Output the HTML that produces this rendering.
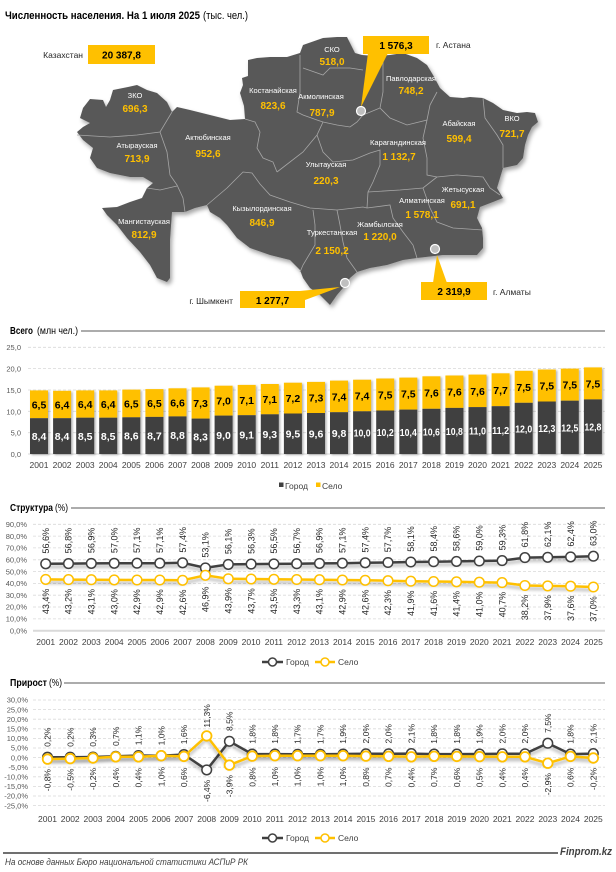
<!DOCTYPE html>
<html><head><meta charset="utf-8"><style>
html,body{margin:0;padding:0;background:#fff;}
svg{display:block;font-family:"Liberation Sans","DejaVu Sans",sans-serif;}
.ax{font-size:7.5px;fill:#595959;text-anchor:end;}
.yr{font-size:8.5px;fill:#404040;text-anchor:middle;}
.gl{stroke:#d9d9d9;stroke-width:0.8;stroke-dasharray:3 2;}
.bl{font-size:10.5px;font-weight:bold;text-anchor:middle;}
.rn{font-size:7.5px;fill:#fff;text-anchor:middle;}
.rv{font-size:10px;font-weight:bold;fill:#FFC000;text-anchor:middle;}
.sl{font-size:9px;fill:#262626;text-anchor:middle;}
.gv{font-size:8.5px;fill:#262626;text-anchor:middle;}
.lg{font-size:8.5px;fill:#404040;}
.bd{fill:none;stroke:#a6a6a6;stroke-width:0.8;}
</style></head><body>
<svg width="616" height="872" viewBox="0 0 616 872" xmlns="http://www.w3.org/2000/svg">
<defs>
<filter id="sh" x="-10%" y="-10%" width="120%" height="130%"><feDropShadow dx="2" dy="3" stdDeviation="2" flood-color="#000" flood-opacity="0.35"/></filter>
<filter id="ls" x="-5%" y="-50%" width="110%" height="200%"><feDropShadow dx="0" dy="3" stdDeviation="1.5" flood-color="#000" flood-opacity="0.3"/></filter>
<filter id="bs" x="-20%" y="-5%" width="140%" height="110%"><feDropShadow dx="1.5" dy="1" stdDeviation="1" flood-color="#000" flood-opacity="0.3"/></filter>
</defs>
<rect width="616" height="872" fill="#fff"/>

<!-- Title -->
<text x="5" y="19" font-size="11" font-weight="bold" fill="#000" textLength="195" lengthAdjust="spacingAndGlyphs">Численность населения. На 1 июля 2025</text>
<text x="203" y="19" font-size="11" fill="#000" textLength="45" lengthAdjust="spacingAndGlyphs">(тыс. чел.)</text>

<!-- Map -->
<path filter="url(#sh)" fill="#595959" d="M83,108 L90,99 L103,100 L106,107 L110,100 L113,90 L128,87 L137,85 L147,90 L157,93 L167,102 L172,112 L177,107 L190,110 L210,115 L230,120 L245,119 L244,106 L240,93 L243,85 L242,78 L248,76 L248,60 L257,58 L270,57 L287,57 L300,53 L303,45 L323,38 L337,37 L347,37 L350,43 L355,53 L362,55 L375,56 L390,55 L403,53 L417,58 L427,65 L433,75 L440,88 L450,97 L463,98 L470,97 L483,98 L493,103 L503,110 L517,113 L527,112 L535,113 L538,122 L532,127 L528,135 L525,145 L523,158 L517,165 L503,168 L500,178 L497,188 L503,198 L493,202 L480,207 L477,218 L482,228 L483,238 L483,248 L477,255 L463,255 L443,255 L417,258 L403,260 L387,265 L370,268 L357,272 L350,278 L343,288 L337,295 L330,305 L320,295 L310,288 L303,278 L300,270 L290,260 L270,255 L250,248 L237,238 L227,225 L220,218 L210,212 L207,205 L195,208 L185,212 L172,212 L170,240 L170,278 L167,282 L157,278 L150,265 L140,252 L127,238 L117,225 L107,215 L102,208 L117,207 L130,202 L142,198 L147,188 L153,183 L143,177 L130,177 L110,173 L97,168 L90,158 L93,148 L83,140 L77,132 L83,127 L90,123 L80,118 Z"/>
<g class="bd">
<path d="M77,135 L110,137 L137,135 L160,132 L172,112"/>
<path d="M160,132 L167,152 L170,175 L177,185 L183,198 L185,212"/>
<path d="M147,188 L160,190 L177,186"/>
<path d="M245,119 L255,122 L260,132 L257,148 L263,158 L273,162 L277,172"/>
<path d="M207,205 L227,188 L243,172 L252,173 L260,184 L270,195 L290,202 L310,208 L337,210 L363,207 L367,208"/>
<path d="M277,172 L303,152 L317,135 L323,122"/>
<path d="M300,55 L300,92 L297,112 L303,115 L317,120 L323,122"/>
<path d="M303,68 L323,75 L330,68 L350,68 L363,70"/>
<path d="M323,122 L337,125 L350,127 L357,122 L363,115 L380,108 L383,92 L383,75 L383,58"/>
<path d="M380,108 L390,118 L407,125 L427,120 L430,105 L437,92"/>
<path d="M317,135 L323,152 L333,162 L353,160 L370,153 L380,150 L380,165 L373,182 L368,192 L367,208"/>
<path d="M427,120 L423,138 L427,158 L427,175 L437,177"/>
<path d="M483,98 L485,118 L497,135 L503,145 L503,168"/>
<path d="M437,177 L457,175 L483,177 L490,188 L500,195"/>
<path d="M368,192 L400,190 L423,188 L437,177"/>
<path d="M423,188 L430,208 L437,222 L453,228 L483,230"/>
<path d="M367,208 L390,205 L393,218 L403,232 L413,245 L417,258"/>
<path d="M313,210 L315,225 L315,245 L303,265 L300,272"/>
<path d="M337,210 L340,225 L343,242 L347,258 L357,272"/>
</g>
<text class="rn" x="332" y="52">СКО</text><text class="rv" x="332" y="65">518,0</text>
<text class="rn" x="273" y="93">Костанайская</text><text class="rv" x="273" y="109">823,6</text>
<text class="rn" x="321" y="99">Акмолинская</text><text class="rv" x="322" y="116">787,9</text>
<text class="rn" x="411" y="81">Павлодарская</text><text class="rv" x="411" y="94">748,2</text>
<text class="rn" x="135" y="98">ЗКО</text><text class="rv" x="135" y="112">696,3</text>
<text class="rn" x="137" y="148">Атырауская</text><text class="rv" x="137" y="162">713,9</text>
<text class="rn" x="208" y="140">Актюбинская</text><text class="rv" x="208" y="157">952,6</text>
<text class="rn" x="262" y="211">Кызылординская</text><text class="rv" x="262" y="226">846,9</text>
<text class="rn" x="144" y="224">Мангистауская</text><text class="rv" x="144" y="238">812,9</text>
<text class="rn" x="459" y="126">Абайская</text><text class="rv" x="459" y="142">599,4</text>
<text class="rn" x="512" y="121">ВКО</text><text class="rv" x="512" y="137">721,7</text>
<text class="rn" x="398" y="145">Карагандинская</text><text class="rv" x="399" y="160">1 132,7</text>
<text class="rn" x="326" y="167">Улытауская</text><text class="rv" x="326" y="184">220,3</text>
<text class="rn" x="463" y="192">Жетысуская</text><text class="rv" x="463" y="208">691,1</text>
<text class="rn" x="422" y="203">Алматинская</text><text class="rv" x="422" y="218">1 578,1</text>
<text class="rn" x="380" y="227">Жамбылская</text><text class="rv" x="380" y="240">1 220,0</text>
<text class="rn" x="332" y="235">Туркестанская</text><text class="rv" x="332" y="254">2 150,2</text>

<!-- callouts -->
<text x="83" y="58" font-size="8.5" fill="#262626" text-anchor="end">Казахстан</text>
<rect x="88" y="45" width="67" height="19" fill="#FFC000"/>
<text x="121.5" y="58.5" font-size="10" font-weight="bold" fill="#000" text-anchor="middle">20 387,8</text>

<polygon points="368,53 388,53 361,107" fill="#FFC000"/>
<rect x="363" y="36" width="66" height="18" fill="#FFC000"/>
<text x="396" y="49" font-size="10" font-weight="bold" fill="#000" text-anchor="middle">1 576,3</text>
<text x="436" y="48" font-size="8.5" fill="#262626">г. Астана</text>
<circle cx="361" cy="111" r="4.5" fill="#bfbfbf" stroke="#fff" stroke-width="1.2"/>

<polygon points="433,283 447,283 437,255" fill="#FFC000"/>
<rect x="421" y="282" width="66" height="18" fill="#FFC000"/>
<text x="454" y="295" font-size="10" font-weight="bold" fill="#000" text-anchor="middle">2 319,9</text>
<text x="493" y="295" font-size="8.5" fill="#262626">г. Алматы</text>
<circle cx="435" cy="249" r="4.5" fill="#bfbfbf" stroke="#fff" stroke-width="1.2"/>

<polygon points="290,292 305,300 340,287" fill="#FFC000"/>
<rect x="240" y="291" width="65" height="17" fill="#FFC000"/>
<text x="272.5" y="304" font-size="10" font-weight="bold" fill="#000" text-anchor="middle">1 277,7</text>
<text x="233" y="304" font-size="8.5" fill="#262626" text-anchor="end">г. Шымкент</text>
<circle cx="345" cy="283" r="4.5" fill="#bfbfbf" stroke="#fff" stroke-width="1.2"/>

<!-- ============ Bar chart ============ -->
<text x="10" y="334" font-size="10" font-weight="bold" fill="#000" textLength="23" lengthAdjust="spacingAndGlyphs">Всего</text>
<text x="37" y="334" font-size="10" fill="#000" textLength="41" lengthAdjust="spacingAndGlyphs">(млн чел.)</text>
<line x1="81" y1="331" x2="605" y2="331" stroke="#595959" stroke-width="1"/>
<g>
<line class="gl" x1="28" y1="347.3" x2="605" y2="347.3"/>
<line class="gl" x1="28" y1="368.6" x2="605" y2="368.6"/>
<line class="gl" x1="28" y1="390" x2="605" y2="390"/>
<line class="gl" x1="28" y1="411.3" x2="605" y2="411.3"/>
<line class="gl" x1="28" y1="432.7" x2="605" y2="432.7"/>
<line x1="28" y1="454" x2="605" y2="454" stroke="#d9d9d9" stroke-width="1"/>
</g>
<g class="ax">
<text x="21" y="350">25,0</text><text x="21" y="371.5">20,0</text><text x="21" y="393">15,0</text>
<text x="21" y="414.3">10,0</text><text x="21" y="435.7">5,0</text><text x="21" y="457">0,0</text>
</g>
<g filter="url(#bs)">
<g fill="#FFC000">
<rect x="30" y="390.4" width="18" height="27.8"/><rect x="53.1" y="390.8" width="18" height="27.4"/>
<rect x="76.2" y="390.4" width="18" height="27.3"/><rect x="99.2" y="390.4" width="18" height="27.3"/>
<rect x="122.3" y="389.6" width="18" height="27.7"/><rect x="145.4" y="389.1" width="18" height="27.8"/>
<rect x="168.5" y="388.3" width="18" height="28.1"/><rect x="191.6" y="387.4" width="18" height="31.2"/>
<rect x="214.6" y="385.7" width="18" height="29.9"/><rect x="237.7" y="384.9" width="18" height="30.3"/>
<rect x="260.8" y="384" width="18" height="30.3"/><rect x="283.9" y="382.7" width="18" height="30.8"/>
<rect x="307" y="381.9" width="18" height="31.1"/><rect x="330" y="380.6" width="18" height="31.6"/>
<rect x="353.1" y="379.7" width="18" height="31.6"/><rect x="376.2" y="378.5" width="18" height="32"/>
<rect x="399.3" y="377.6" width="18" height="32"/><rect x="422.4" y="376.3" width="18" height="32.5"/>
<rect x="445.4" y="375.5" width="18" height="32.4"/><rect x="468.5" y="374.6" width="18" height="32.5"/>
<rect x="491.6" y="373.3" width="18" height="32.9"/><rect x="514.7" y="370.8" width="18" height="32"/>
<rect x="537.8" y="369.5" width="18" height="32"/><rect x="560.8" y="368.6" width="18" height="32.1"/>
<rect x="583.9" y="367.4" width="18" height="32"/>
</g>
<g fill="#404040">
<rect x="30" y="418.2" width="18" height="35.8"/><rect x="53.1" y="418.2" width="18" height="35.8"/>
<rect x="76.2" y="417.7" width="18" height="36.3"/><rect x="99.2" y="417.7" width="18" height="36.3"/>
<rect x="122.3" y="417.3" width="18" height="36.7"/><rect x="145.4" y="416.9" width="18" height="37.1"/>
<rect x="168.5" y="416.4" width="18" height="37.6"/><rect x="191.6" y="418.6" width="18" height="35.4"/>
<rect x="214.6" y="415.6" width="18" height="38.4"/><rect x="237.7" y="415.2" width="18" height="38.8"/>
<rect x="260.8" y="414.3" width="18" height="39.7"/><rect x="283.9" y="413.5" width="18" height="40.5"/>
<rect x="307" y="413" width="18" height="41"/><rect x="330" y="412.2" width="18" height="41.8"/>
<rect x="353.1" y="411.3" width="18" height="42.7"/><rect x="376.2" y="410.5" width="18" height="43.5"/>
<rect x="399.3" y="409.6" width="18" height="44.4"/><rect x="422.4" y="408.8" width="18" height="45.2"/>
<rect x="445.4" y="407.9" width="18" height="46.1"/><rect x="468.5" y="407.1" width="18" height="46.9"/>
<rect x="491.6" y="406.2" width="18" height="47.8"/><rect x="514.7" y="402.8" width="18" height="51.2"/>
<rect x="537.8" y="401.5" width="18" height="52.5"/><rect x="560.8" y="400.7" width="18" height="53.3"/>
<rect x="583.9" y="399.4" width="18" height="54.6"/>
</g>
</g>
<g class="bl" fill="#000">
<text x="39" y="408.3">6,5</text><text x="62.1" y="408.5">6,4</text><text x="85.2" y="408.1">6,4</text>
<text x="108.2" y="408.1">6,4</text><text x="131.3" y="407.4">6,5</text><text x="154.4" y="407">6,5</text>
<text x="177.5" y="406.4">6,6</text><text x="200.6" y="407">7,3</text><text x="223.6" y="404.7">7,0</text>
<text x="246.7" y="404">7,1</text><text x="269.8" y="403.2">7,1</text><text x="292.9" y="402.1">7,2</text>
<text x="316" y="401.5">7,3</text><text x="339" y="400.4">7,4</text><text x="362.1" y="399.5">7,4</text>
<text x="385.2" y="398.5">7,5</text><text x="408.3" y="397.6">7,5</text><text x="431.4" y="396.5">7,6</text>
<text x="454.4" y="395.7">7,6</text><text x="477.5" y="394.8">7,6</text><text x="500.6" y="393.8">7,7</text>
<text x="523.7" y="390.8">7,5</text><text x="546.8" y="389.5">7,5</text><text x="569.8" y="388.6">7,5</text>
<text x="592.9" y="387.4">7,5</text>
</g>
<g class="bl" fill="#fff">
<text x="39" y="440.1">8,4</text><text x="62.1" y="440.1">8,4</text><text x="85.2" y="439.9">8,5</text>
<text x="108.2" y="439.9">8,5</text><text x="131.3" y="439.7">8,6</text><text x="154.4" y="439.4">8,7</text>
<text x="177.5" y="439.2">8,8</text><text x="200.6" y="440.3">8,3</text><text x="223.6" y="438.8">9,0</text>
<text x="246.7" y="438.6">9,1</text><text x="269.8" y="438.2">9,3</text><text x="292.9" y="437.7">9,5</text>
<text x="316" y="437.5">9,6</text><text x="339" y="437.1">9,8</text>
<text x="362.1" y="436.7" textLength="17" lengthAdjust="spacingAndGlyphs">10,0</text>
<text x="385.2" y="436.2" textLength="17" lengthAdjust="spacingAndGlyphs">10,2</text>
<text x="408.3" y="435.8" textLength="17" lengthAdjust="spacingAndGlyphs">10,4</text>
<text x="431.4" y="435.4" textLength="17" lengthAdjust="spacingAndGlyphs">10,6</text>
<text x="454.4" y="435" textLength="17" lengthAdjust="spacingAndGlyphs">10,8</text>
<text x="477.5" y="434.5" textLength="17" lengthAdjust="spacingAndGlyphs">11,0</text>
<text x="500.6" y="434.1" textLength="17" lengthAdjust="spacingAndGlyphs">11,2</text>
<text x="523.7" y="432.4" textLength="17" lengthAdjust="spacingAndGlyphs">12,0</text>
<text x="546.8" y="431.8" textLength="17" lengthAdjust="spacingAndGlyphs">12,3</text>
<text x="569.8" y="431.3" textLength="17" lengthAdjust="spacingAndGlyphs">12,5</text>
<text x="592.9" y="430.7" textLength="17" lengthAdjust="spacingAndGlyphs">12,8</text>
</g>
<g class="yr">
<text x="39" y="468">2001</text><text x="62.1" y="468">2002</text><text x="85.2" y="468">2003</text>
<text x="108.2" y="468">2004</text><text x="131.3" y="468">2005</text><text x="154.4" y="468">2006</text>
<text x="177.5" y="468">2007</text><text x="200.6" y="468">2008</text><text x="223.6" y="468">2009</text>
<text x="246.7" y="468">2010</text><text x="269.8" y="468">2011</text><text x="292.9" y="468">2012</text>
<text x="316" y="468">2013</text><text x="339" y="468">2014</text><text x="362.1" y="468">2015</text>
<text x="385.2" y="468">2016</text><text x="408.3" y="468">2017</text><text x="431.4" y="468">2018</text>
<text x="454.4" y="468">2019</text><text x="477.5" y="468">2020</text><text x="500.6" y="468">2021</text>
<text x="523.7" y="468">2022</text><text x="546.8" y="468">2023</text><text x="569.8" y="468">2024</text>
<text x="592.9" y="468">2025</text>
</g>
<rect x="279" y="482.5" width="4.5" height="4.5" fill="#404040"/>
<text class="lg" x="285" y="489">Город</text>
<rect x="316" y="482.5" width="4.5" height="4.5" fill="#FFC000"/>
<text class="lg" x="322" y="489">Село</text>

<!-- ============ Structure chart ============ -->
<text x="10" y="511" font-size="10" font-weight="bold" fill="#000" textLength="43" lengthAdjust="spacingAndGlyphs">Структура</text>
<text x="55" y="511" font-size="10" fill="#000" textLength="13" lengthAdjust="spacingAndGlyphs">(%)</text>
<line x1="71" y1="508" x2="605" y2="508" stroke="#595959" stroke-width="1"/>
<g>
<line class="gl" x1="33" y1="524.3" x2="605" y2="524.3"/>
<line class="gl" x1="33" y1="536.1" x2="605" y2="536.1"/>
<line class="gl" x1="33" y1="547.9" x2="605" y2="547.9"/>
<line class="gl" x1="33" y1="559.8" x2="605" y2="559.8"/>
<line class="gl" x1="33" y1="571.6" x2="605" y2="571.6"/>
<line class="gl" x1="33" y1="583.4" x2="605" y2="583.4"/>
<line class="gl" x1="33" y1="595.2" x2="605" y2="595.2"/>
<line class="gl" x1="33" y1="607" x2="605" y2="607"/>
<line class="gl" x1="33" y1="618.9" x2="605" y2="618.9"/>
<line x1="33" y1="630.7" x2="605" y2="630.7" stroke="#d9d9d9" stroke-width="2"/>
</g>
<g class="ax">
<text x="27" y="527">90,0%</text><text x="27" y="538.8">80,0%</text><text x="27" y="550.6">70,0%</text>
<text x="27" y="562.5">60,0%</text><text x="27" y="574.3">50,0%</text><text x="27" y="586.1">40,0%</text>
<text x="27" y="597.9">30,0%</text><text x="27" y="609.7">20,0%</text><text x="27" y="621.6">10,0%</text>
<text x="27" y="633.4">0,0%</text>
</g>
<g filter="url(#ls)">
<polyline fill="none" stroke="#404040" stroke-width="2.5" points="45.7,563.8 68.5,563.6 91.3,563.4 114.2,563.3 137,563.2 159.8,563.2 182.6,562.8 205.4,567.9 228.3,564.4 251.1,564.1 273.9,563.9 296.7,563.7 319.5,563.4 342.4,563.2 365.2,562.8 388,562.5 410.8,562 433.6,561.7 456.5,561.4 479.3,561 502.1,560.6 524.9,557.6 547.7,557.3 570.6,556.9 593.4,556.2"/>
<polyline fill="none" stroke="#FFC000" stroke-width="2.5" points="45.7,579.4 68.5,579.6 91.3,579.7 114.2,579.9 137,580 159.8,580 182.6,580.3 205.4,575.3 228.3,578.8 251.1,579 273.9,579.3 296.7,579.5 319.5,579.7 342.4,580 365.2,580.3 388,580.7 410.8,581.2 433.6,581.5 456.5,581.8 479.3,582.2 502.1,582.6 524.9,585.5 547.7,585.9 570.6,586.2 593.4,587"/>
</g>
<g fill="#fff" stroke="#404040" stroke-width="1.5">
<circle cx="45.7" cy="563.8" r="4.8"/><circle cx="68.5" cy="563.6" r="4.8"/><circle cx="91.3" cy="563.4" r="4.8"/>
<circle cx="114.2" cy="563.3" r="4.8"/><circle cx="137" cy="563.2" r="4.8"/><circle cx="159.8" cy="563.2" r="4.8"/>
<circle cx="182.6" cy="562.8" r="4.8"/><circle cx="205.4" cy="567.9" r="4.8"/><circle cx="228.3" cy="564.4" r="4.8"/>
<circle cx="251.1" cy="564.1" r="4.8"/><circle cx="273.9" cy="563.9" r="4.8"/><circle cx="296.7" cy="563.7" r="4.8"/>
<circle cx="319.5" cy="563.4" r="4.8"/><circle cx="342.4" cy="563.2" r="4.8"/><circle cx="365.2" cy="562.8" r="4.8"/>
<circle cx="388" cy="562.5" r="4.8"/><circle cx="410.8" cy="562" r="4.8"/><circle cx="433.6" cy="561.7" r="4.8"/>
<circle cx="456.5" cy="561.4" r="4.8"/><circle cx="479.3" cy="561" r="4.8"/><circle cx="502.1" cy="560.6" r="4.8"/>
<circle cx="524.9" cy="557.6" r="4.8"/><circle cx="547.7" cy="557.3" r="4.8"/><circle cx="570.6" cy="556.9" r="4.8"/>
<circle cx="593.4" cy="556.2" r="4.8"/>
</g>
<g fill="#fff" stroke="#FFC000" stroke-width="1.5">
<circle cx="45.7" cy="579.4" r="4.8"/><circle cx="68.5" cy="579.6" r="4.8"/><circle cx="91.3" cy="579.7" r="4.8"/>
<circle cx="114.2" cy="579.9" r="4.8"/><circle cx="137" cy="580" r="4.8"/><circle cx="159.8" cy="580" r="4.8"/>
<circle cx="182.6" cy="580.3" r="4.8"/><circle cx="205.4" cy="575.3" r="4.8"/><circle cx="228.3" cy="578.8" r="4.8"/>
<circle cx="251.1" cy="579" r="4.8"/><circle cx="273.9" cy="579.3" r="4.8"/><circle cx="296.7" cy="579.5" r="4.8"/>
<circle cx="319.5" cy="579.7" r="4.8"/><circle cx="342.4" cy="580" r="4.8"/><circle cx="365.2" cy="580.3" r="4.8"/>
<circle cx="388" cy="580.7" r="4.8"/><circle cx="410.8" cy="581.2" r="4.8"/><circle cx="433.6" cy="581.5" r="4.8"/>
<circle cx="456.5" cy="581.8" r="4.8"/><circle cx="479.3" cy="582.2" r="4.8"/><circle cx="502.1" cy="582.6" r="4.8"/>
<circle cx="524.9" cy="585.5" r="4.8"/><circle cx="547.7" cy="585.9" r="4.8"/><circle cx="570.6" cy="586.2" r="4.8"/>
<circle cx="593.4" cy="587" r="4.8"/>
</g>
<g class="sl">
<text transform="translate(48.9,540.8) rotate(-90)">56,6%</text>
<text transform="translate(71.7,540.6) rotate(-90)">56,8%</text>
<text transform="translate(94.5,540.4) rotate(-90)">56,9%</text>
<text transform="translate(117.4,540.3) rotate(-90)">57,0%</text>
<text transform="translate(140.2,540.2) rotate(-90)">57,1%</text>
<text transform="translate(163,540.2) rotate(-90)">57,1%</text>
<text transform="translate(185.8,539.8) rotate(-90)">57,4%</text>
<text transform="translate(208.6,544.9) rotate(-90)">53,1%</text>
<text transform="translate(231.5,541.4) rotate(-90)">56,1%</text>
<text transform="translate(254.3,541.1) rotate(-90)">56,3%</text>
<text transform="translate(277.1,540.9) rotate(-90)">56,5%</text>
<text transform="translate(299.9,540.7) rotate(-90)">56,7%</text>
<text transform="translate(322.7,540.4) rotate(-90)">56,9%</text>
<text transform="translate(345.6,540.2) rotate(-90)">57,1%</text>
<text transform="translate(368.4,539.8) rotate(-90)">57,4%</text>
<text transform="translate(391.2,539.5) rotate(-90)">57,7%</text>
<text transform="translate(414,539) rotate(-90)">58,1%</text>
<text transform="translate(436.8,538.7) rotate(-90)">58,4%</text>
<text transform="translate(459.7,538.4) rotate(-90)">58,6%</text>
<text transform="translate(482.5,538) rotate(-90)">59,0%</text>
<text transform="translate(505.3,537.6) rotate(-90)">59,3%</text>
<text transform="translate(528.1,534.6) rotate(-90)">61,8%</text>
<text transform="translate(550.9,534.3) rotate(-90)">62,1%</text>
<text transform="translate(573.8,533.9) rotate(-90)">62,4%</text>
<text transform="translate(596.6,533.2) rotate(-90)">63,0%</text>

<text transform="translate(48.9,601.4) rotate(-90)">43,4%</text>
<text transform="translate(71.7,601.6) rotate(-90)">43,2%</text>
<text transform="translate(94.5,601.7) rotate(-90)">43,1%</text>
<text transform="translate(117.4,601.9) rotate(-90)">43,0%</text>
<text transform="translate(140.2,602) rotate(-90)">42,9%</text>
<text transform="translate(163,602) rotate(-90)">42,9%</text>
<text transform="translate(185.8,602.3) rotate(-90)">42,6%</text>
<text transform="translate(208.6,599.3) rotate(-90)">46,9%</text>
<text transform="translate(231.5,600.8) rotate(-90)">43,9%</text>
<text transform="translate(254.3,601) rotate(-90)">43,7%</text>
<text transform="translate(277.1,601.3) rotate(-90)">43,5%</text>
<text transform="translate(299.9,601.5) rotate(-90)">43,3%</text>
<text transform="translate(322.7,601.7) rotate(-90)">43,1%</text>
<text transform="translate(345.6,602) rotate(-90)">42,9%</text>
<text transform="translate(368.4,602.3) rotate(-90)">42,6%</text>
<text transform="translate(391.2,602.7) rotate(-90)">42,3%</text>
<text transform="translate(414,603.2) rotate(-90)">41,9%</text>
<text transform="translate(436.8,603.5) rotate(-90)">41,6%</text>
<text transform="translate(459.7,603.8) rotate(-90)">41,4%</text>
<text transform="translate(482.5,604.2) rotate(-90)">41,0%</text>
<text transform="translate(505.3,604.6) rotate(-90)">40,7%</text>
<text transform="translate(528.1,607.5) rotate(-90)">38,2%</text>
<text transform="translate(550.9,607.9) rotate(-90)">37,9%</text>
<text transform="translate(573.8,608.2) rotate(-90)">37,6%</text>
<text transform="translate(596.6,609) rotate(-90)">37,0%</text>
</g>
<g class="yr">
<text x="45.7" y="645">2001</text><text x="68.5" y="645">2002</text><text x="91.3" y="645">2003</text>
<text x="114.2" y="645">2004</text><text x="137" y="645">2005</text><text x="159.8" y="645">2006</text>
<text x="182.6" y="645">2007</text><text x="205.4" y="645">2008</text><text x="228.3" y="645">2009</text>
<text x="251.1" y="645">2010</text><text x="273.9" y="645">2011</text><text x="296.7" y="645">2012</text>
<text x="319.5" y="645">2013</text><text x="342.4" y="645">2014</text><text x="365.2" y="645">2015</text>
<text x="388" y="645">2016</text><text x="410.8" y="645">2017</text><text x="433.6" y="645">2018</text>
<text x="456.5" y="645">2019</text><text x="479.3" y="645">2020</text><text x="502.1" y="645">2021</text>
<text x="524.9" y="645">2022</text><text x="547.7" y="645">2023</text><text x="570.6" y="645">2024</text>
<text x="593.4" y="645">2025</text>
</g>
<line x1="262" y1="662" x2="283" y2="662" stroke="#404040" stroke-width="2.5"/>
<circle cx="272.5" cy="662" r="4" fill="#fff" stroke="#404040" stroke-width="1.5"/>
<text class="lg" x="286" y="665">Город</text>
<line x1="315" y1="662" x2="335" y2="662" stroke="#FFC000" stroke-width="2.5"/>
<circle cx="325" cy="662" r="4" fill="#fff" stroke="#FFC000" stroke-width="1.5"/>
<text class="lg" x="338" y="665">Село</text>

<!-- ============ Growth chart ============ -->
<text x="10" y="686" font-size="10" font-weight="bold" fill="#000" textLength="37" lengthAdjust="spacingAndGlyphs">Прирост</text>
<text x="49" y="686" font-size="10" fill="#000" textLength="13" lengthAdjust="spacingAndGlyphs">(%)</text>
<line x1="64" y1="683" x2="605" y2="683" stroke="#595959" stroke-width="1"/>
<g>
<line class="gl" x1="33" y1="700" x2="605" y2="700"/>
<line class="gl" x1="33" y1="709.6" x2="605" y2="709.6"/>
<line class="gl" x1="33" y1="719.2" x2="605" y2="719.2"/>
<line class="gl" x1="33" y1="728.8" x2="605" y2="728.8"/>
<line class="gl" x1="33" y1="738.4" x2="605" y2="738.4"/>
<line class="gl" x1="33" y1="748" x2="605" y2="748"/>
<line class="gl" x1="33" y1="757.6" x2="605" y2="757.6"/>
<line class="gl" x1="33" y1="767.2" x2="605" y2="767.2"/>
<line class="gl" x1="33" y1="776.8" x2="605" y2="776.8"/>
<line class="gl" x1="33" y1="786.4" x2="605" y2="786.4"/>
<line class="gl" x1="33" y1="796" x2="605" y2="796"/>
<line class="gl" x1="33" y1="805.6" x2="605" y2="805.6"/>
</g>
<g class="ax">
<text x="28" y="702.7">30,0%</text><text x="28" y="712.3">25,0%</text><text x="28" y="721.9">20,0%</text>
<text x="28" y="731.5">15,0%</text><text x="28" y="741.1">10,0%</text><text x="28" y="750.7">5,0%</text>
<text x="28" y="760.3">0,0%</text><text x="28" y="769.9">-5,0%</text><text x="28" y="779.5">-10,0%</text>
<text x="28" y="789.1">-15,0%</text><text x="28" y="798.7">-20,0%</text><text x="28" y="808.3">-25,0%</text>
</g>
<g filter="url(#ls)">
<polyline fill="none" stroke="#404040" stroke-width="2.5" points="47.5,757.2 70.2,757.2 93,757 115.7,756.3 138.5,755.5 161.2,755.7 183.9,754.5 206.7,769.9 229.4,741.3 252.2,754.1 274.9,754.1 297.6,754.3 320.4,754.3 343.1,754 365.9,753.8 388.6,753.8 411.3,753.6 434.1,754.1 456.8,754.1 479.6,754 502.3,753.8 525,753.8 547.8,743.2 570.5,754.1 593.3,753.6"/>
</g>
<g fill="#fff" stroke="#404040" stroke-width="1.5">
<circle cx="47.5" cy="757.2" r="4.8"/><circle cx="70.2" cy="757.2" r="4.8"/><circle cx="93" cy="757" r="4.8"/>
<circle cx="115.7" cy="756.3" r="4.8"/><circle cx="138.5" cy="755.5" r="4.8"/><circle cx="161.2" cy="755.7" r="4.8"/>
<circle cx="183.9" cy="754.5" r="4.8"/><circle cx="206.7" cy="769.9" r="4.8"/><circle cx="229.4" cy="741.3" r="4.8"/>
<circle cx="252.2" cy="754.1" r="4.8"/><circle cx="274.9" cy="754.1" r="4.8"/><circle cx="297.6" cy="754.3" r="4.8"/>
<circle cx="320.4" cy="754.3" r="4.8"/><circle cx="343.1" cy="754" r="4.8"/><circle cx="365.9" cy="753.8" r="4.8"/>
<circle cx="388.6" cy="753.8" r="4.8"/><circle cx="411.3" cy="753.6" r="4.8"/><circle cx="434.1" cy="754.1" r="4.8"/>
<circle cx="456.8" cy="754.1" r="4.8"/><circle cx="479.6" cy="754" r="4.8"/><circle cx="502.3" cy="753.8" r="4.8"/>
<circle cx="525" cy="753.8" r="4.8"/><circle cx="547.8" cy="743.2" r="4.8"/><circle cx="570.5" cy="754.1" r="4.8"/>
<circle cx="593.3" cy="753.6" r="4.8"/>
</g>
<g filter="url(#ls)">
<polyline fill="none" stroke="#FFC000" stroke-width="2.5" points="47.5,759.1 70.2,758.6 93,758 115.7,756.8 138.5,756.8 161.2,755.7 183.9,756.4 206.7,735.9 229.4,765.1 252.2,756.1 274.9,755.7 297.6,755.7 320.4,755.7 343.1,755.7 365.9,756.1 388.6,756.3 411.3,756.8 434.1,756.3 456.8,756.4 479.6,756.6 502.3,756.8 525,756.8 547.8,763.2 570.5,756.4 593.3,758"/>
</g>
<g fill="#fff" stroke="#FFC000" stroke-width="1.8">
<circle cx="47.5" cy="759.1" r="4.8"/><circle cx="70.2" cy="758.6" r="4.8"/><circle cx="93" cy="758" r="4.8"/>
<circle cx="115.7" cy="756.8" r="4.8"/><circle cx="138.5" cy="756.8" r="4.8"/><circle cx="161.2" cy="755.7" r="4.8"/>
<circle cx="183.9" cy="756.4" r="4.8"/><circle cx="206.7" cy="735.9" r="4.8"/><circle cx="229.4" cy="765.1" r="4.8"/>
<circle cx="252.2" cy="756.1" r="4.8"/><circle cx="274.9" cy="755.7" r="4.8"/><circle cx="297.6" cy="755.7" r="4.8"/>
<circle cx="320.4" cy="755.7" r="4.8"/><circle cx="343.1" cy="755.7" r="4.8"/><circle cx="365.9" cy="756.1" r="4.8"/>
<circle cx="388.6" cy="756.3" r="4.8"/><circle cx="411.3" cy="756.8" r="4.8"/><circle cx="434.1" cy="756.3" r="4.8"/>
<circle cx="456.8" cy="756.4" r="4.8"/><circle cx="479.6" cy="756.6" r="4.8"/><circle cx="502.3" cy="756.8" r="4.8"/>
<circle cx="525" cy="756.8" r="4.8"/><circle cx="547.8" cy="763.2" r="4.8"/><circle cx="570.5" cy="756.4" r="4.8"/>
<circle cx="593.3" cy="758" r="4.8"/>
</g>
<g class="gv">
<text transform="translate(50.6,737.2) rotate(-90)">0,2%</text>
<text transform="translate(73.3,737.2) rotate(-90)">0,2%</text>
<text transform="translate(96.1,737) rotate(-90)">0,3%</text>
<text transform="translate(118.8,736.3) rotate(-90)">0,7%</text>
<text transform="translate(141.6,735.5) rotate(-90)">1,1%</text>
<text transform="translate(164.3,735.7) rotate(-90)">1,0%</text>
<text transform="translate(187,734.5) rotate(-90)">1,6%</text>
<text transform="translate(209.8,715.9) rotate(-90)">11,3%</text>
<text transform="translate(232.5,721.3) rotate(-90)">8,5%</text>
<text transform="translate(255.3,734.1) rotate(-90)">1,8%</text>
<text transform="translate(278,734.1) rotate(-90)">1,8%</text>
<text transform="translate(300.7,734.3) rotate(-90)">1,7%</text>
<text transform="translate(323.5,734.3) rotate(-90)">1,7%</text>
<text transform="translate(346.2,734) rotate(-90)">1,9%</text>
<text transform="translate(369,733.8) rotate(-90)">2,0%</text>
<text transform="translate(391.7,733.8) rotate(-90)">2,0%</text>
<text transform="translate(414.4,733.6) rotate(-90)">2,1%</text>
<text transform="translate(437.2,734.1) rotate(-90)">1,8%</text>
<text transform="translate(459.9,734.1) rotate(-90)">1,8%</text>
<text transform="translate(482.7,734) rotate(-90)">1,9%</text>
<text transform="translate(505.4,733.8) rotate(-90)">2,0%</text>
<text transform="translate(528.1,733.8) rotate(-90)">2,0%</text>
<text transform="translate(550.9,723.2) rotate(-90)">7,5%</text>
<text transform="translate(573.6,734.1) rotate(-90)">1,8%</text>
<text transform="translate(596.4,733.6) rotate(-90)">2,1%</text>

<text transform="translate(50.6,780.1) rotate(-90)">-0,8%</text>
<text transform="translate(73.3,779.6) rotate(-90)">-0,5%</text>
<text transform="translate(96.1,779) rotate(-90)">-0,2%</text>
<text transform="translate(118.8,777.8) rotate(-90)">0,4%</text>
<text transform="translate(141.6,777.8) rotate(-90)">0,4%</text>
<text transform="translate(164.3,776.7) rotate(-90)">1,0%</text>
<text transform="translate(187,777.4) rotate(-90)">0,6%</text>
<text transform="translate(209.8,790.9) rotate(-90)">-6,4%</text>
<text transform="translate(232.5,786.1) rotate(-90)">-3,9%</text>
<text transform="translate(255.3,777.1) rotate(-90)">0,8%</text>
<text transform="translate(278,776.7) rotate(-90)">1,0%</text>
<text transform="translate(300.7,776.7) rotate(-90)">1,0%</text>
<text transform="translate(323.5,776.7) rotate(-90)">1,0%</text>
<text transform="translate(346.2,776.7) rotate(-90)">1,0%</text>
<text transform="translate(369,777.1) rotate(-90)">0,8%</text>
<text transform="translate(391.7,777.3) rotate(-90)">0,7%</text>
<text transform="translate(414.4,777.8) rotate(-90)">0,4%</text>
<text transform="translate(437.2,777.3) rotate(-90)">0,7%</text>
<text transform="translate(459.9,777.4) rotate(-90)">0,6%</text>
<text transform="translate(482.7,777.6) rotate(-90)">0,5%</text>
<text transform="translate(505.4,777.8) rotate(-90)">0,4%</text>
<text transform="translate(528.1,777.8) rotate(-90)">0,4%</text>
<text transform="translate(550.9,784.2) rotate(-90)">-2,9%</text>
<text transform="translate(573.6,777.4) rotate(-90)">0,6%</text>
<text transform="translate(596.4,779) rotate(-90)">-0,2%</text>
</g>
<g class="yr">
<text x="47.5" y="822">2001</text><text x="70.2" y="822">2002</text><text x="93" y="822">2003</text>
<text x="115.7" y="822">2004</text><text x="138.5" y="822">2005</text><text x="161.2" y="822">2006</text>
<text x="183.9" y="822">2007</text><text x="206.7" y="822">2008</text><text x="229.4" y="822">2009</text>
<text x="252.2" y="822">2010</text><text x="274.9" y="822">2011</text><text x="297.6" y="822">2012</text>
<text x="320.4" y="822">2013</text><text x="343.1" y="822">2014</text><text x="365.9" y="822">2015</text>
<text x="388.6" y="822">2016</text><text x="411.3" y="822">2017</text><text x="434.1" y="822">2018</text>
<text x="456.8" y="822">2019</text><text x="479.6" y="822">2020</text><text x="502.3" y="822">2021</text>
<text x="525" y="822">2022</text><text x="547.8" y="822">2023</text><text x="570.5" y="822">2024</text>
<text x="593.3" y="822">2025</text>
</g>
<line x1="262" y1="838" x2="283" y2="838" stroke="#404040" stroke-width="2.5"/>
<circle cx="272.5" cy="838" r="4" fill="#fff" stroke="#404040" stroke-width="1.5"/>
<text class="lg" x="286" y="841">Город</text>
<line x1="315" y1="838" x2="335" y2="838" stroke="#FFC000" stroke-width="2.5"/>
<circle cx="325" cy="838" r="4" fill="#fff" stroke="#FFC000" stroke-width="1.5"/>
<text class="lg" x="338" y="841">Село</text>

<!-- Footer -->
<line x1="3" y1="853" x2="558" y2="853" stroke="#404040" stroke-width="1.5"/>
<text x="560" y="855" font-size="11" font-weight="bold" font-style="italic" fill="#404040" textLength="52" lengthAdjust="spacingAndGlyphs">Finprom.kz</text>
<text x="5" y="865" font-size="9" font-style="italic" fill="#404040" textLength="243" lengthAdjust="spacingAndGlyphs">На основе данных Бюро национальной статистики АСПиР РК</text>
</svg>
</body></html>
